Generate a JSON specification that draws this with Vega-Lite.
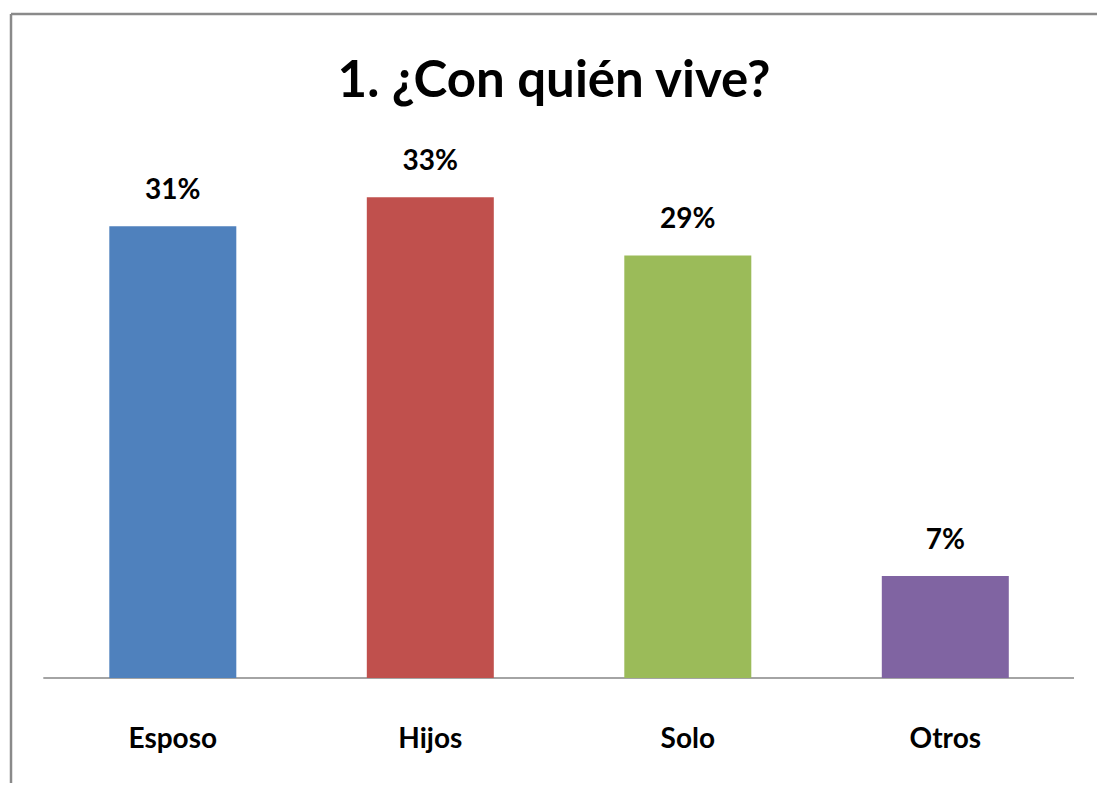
{
  "$schema": "https://vega.github.io/schema/vega-lite/v6.json",
  "usermeta": {"embedOptions": {"actions": false}},
  "width": 1086,
  "height": 769,
  "autosize": {"type": "none"},
  "padding": {"left": 11, "top": 14, "right": 0, "bottom": 0},
  "background": "white",
  "config": {"view": {"stroke": null}},
  "title": {
    "text": "1. ¿Con quién vive?",
    "font": "Lato",
    "fontSize": 51,
    "fontWeight": "bold",
    "color": "#000000",
    "anchor": "middle",
    "baseline": "alphabetic",
    "offset": 0,
    "dy": 135
  },
  "resolve": {"scale": {"x": "independent"}},
  "layer": [
    {
      "data": {"values": [{}]},
      "encoding": {
        "x": {"datum": -0.031338, "type": "quantitative", "scale": {"domain": [-0.031338, 1.02231], "nice": false, "zero": false}, "axis": null},
        "y": {"datum": 0, "type": "quantitative", "scale": {"domain": [-0.07207, 0.4557], "nice": false, "zero": false}, "axis": null}
      },
      "layer": [
        {
          "mark": {"type": "rule", "color": "#868686", "strokeWidth": 1.5},
          "encoding": {
            "x": {"datum": 0, "type": "quantitative"},
            "x2": {"datum": 1},
            "y": {"datum": 0, "type": "quantitative"}
          }
        },
        {
          "mark": {"type": "rule", "color": "#8a8a8a", "strokeWidth": 2.5},
          "encoding": {
            "x": {"datum": -0.031338, "type": "quantitative"},
            "x2": {"datum": 1.02231},
            "y": {"datum": 0.4557, "type": "quantitative"}
          }
        },
        {
          "mark": {"type": "rule", "color": "#8a8a8a", "strokeWidth": 2.5},
          "encoding": {
            "x": {"datum": -0.031338, "type": "quantitative"},
            "y": {"datum": -0.07207, "type": "quantitative"},
            "y2": {"datum": 0.4557}
          }
        }
      ]
    },
    {
      "data": {"values": [
        {"categoria": "Esposo", "valor": 0.31},
        {"categoria": "Hijos", "valor": 0.33},
        {"categoria": "Solo", "valor": 0.29},
        {"categoria": "Otros", "valor": 0.07}
      ]},
      "encoding": {
        "x": {
          "field": "categoria",
          "type": "nominal",
          "sort": null,
          "scale": {"paddingInner": 0.5068, "paddingOuter": 0.36215, "align": 0.5271, "round": false},
          "axis": {
            "orient": "bottom",
            "offset": -105,
            "domain": false,
            "ticks": false,
            "tickSize": 0,
            "labelPadding": 47,
            "labelFont": "Lato",
            "labelFontSize": 28,
            "labelFontWeight": "bold",
            "labelColor": "#000000",
            "labelAngle": 0,
            "grid": false,
            "title": null
          }
        },
        "y": {"field": "valor", "type": "quantitative", "scale": {"domain": [-0.07207, 0.4557], "nice": false, "zero": false}, "axis": null}
      },
      "layer": [
        {
          "mark": {"type": "bar"},
          "encoding": {
            "y2": {"datum": 0},
            "color": {
              "field": "categoria",
              "type": "nominal",
              "sort": null,
              "scale": {"domain": ["Esposo", "Hijos", "Solo", "Otros"], "range": ["#4F81BD", "#C0504D", "#9BBB59", "#8064A2"]},
              "legend": null
            }
          }
        },
        {
          "mark": {"type": "text", "font": "Lato", "fontSize": 28, "fontWeight": "bold", "color": "#000000", "baseline": "alphabetic", "dy": -27},
          "encoding": {
            "text": {"field": "valor", "type": "quantitative", "format": ".0%"}
          }
        }
      ]
    }
  ]
}
